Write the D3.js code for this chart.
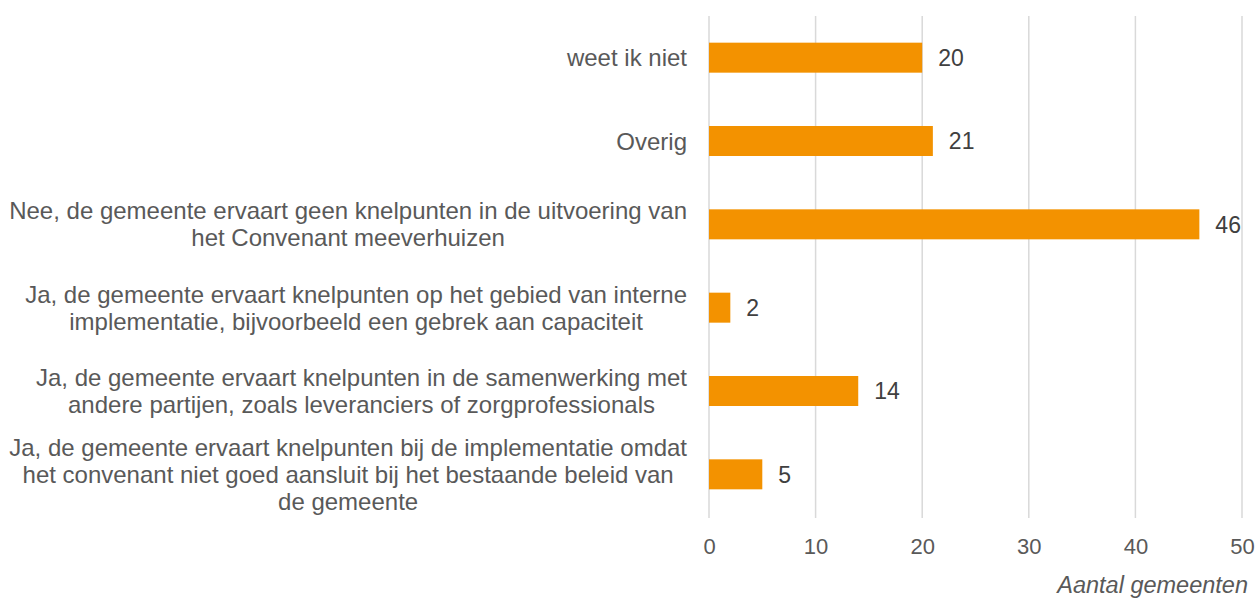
<!DOCTYPE html>
<html><head><meta charset="utf-8">
<script src="https://cdn.jsdelivr.net/npm/d3@7"></script>
<style>body{margin:0;background:#fff}svg{display:block}</style>
</head><body><svg id="c" width="1258" height="601"></svg>
<script>
const categories = [
  "weet ik niet",
  "Overig",
  "Nee, de gemeente ervaart geen knelpunten in de uitvoering van\nhet Convenant meeverhuizen",
  "Ja, de gemeente ervaart knelpunten op het gebied van interne\nimplementatie, bijvoorbeeld een gebrek aan capaciteit",
  "Ja, de gemeente ervaart knelpunten in de samenwerking met\nandere partijen, zoals leveranciers of zorgprofessionals",
  "Ja, de gemeente ervaart knelpunten bij de implementatie omdat\nhet convenant niet goed aansluit bij het bestaande beleid van\nde gemeente"
];
const values = [20, 21, 46, 2, 14, 5];
const xTicks = [0, 10, 20, 30, 40, 50];
const axisTitle = "Aantal gemeenten";

const svg = d3.select("#c");
const font = "'Liberation Sans', Arial, sans-serif";
const x = d3.scaleLinear().domain([0, 50]).range([709, 1242]);
const y = d3.scaleBand().domain(categories).range([16, 516]).paddingInner(0.64).paddingOuter(0.32);

// gridlines
svg.append("g").selectAll("line").data(xTicks).join("line")
  .attr("x1", d => x(d)).attr("x2", d => x(d))
  .attr("y1", 16).attr("y2", 518)
  .attr("stroke", "#d9d9d9").attr("stroke-width", 1.5);

// bars
svg.append("g").selectAll("rect").data(values).join("rect")
  .attr("x", x(0)).attr("y", (d, i) => y(categories[i]))
  .attr("width", d => x(d) - x(0)).attr("height", y.bandwidth())
  .attr("fill", "#f39200");

// value labels
svg.append("g").selectAll("text").data(values).join("text")
  .attr("x", d => x(d) + 16).attr("y", (d, i) => y(categories[i]) + y.bandwidth() / 2)
  .attr("dy", "0.36em").attr("font-family", font).attr("font-size", 23)
  .attr("fill", "#404040").text(d => d);

// x axis tick labels
const xAxis = d3.axisBottom(x).tickValues(xTicks).tickSize(0).tickPadding(0);
const gx = svg.append("g").attr("transform", "translate(0,546)").call(xAxis);
gx.select(".domain").remove();
gx.selectAll("text").attr("font-family", font).attr("font-size", 22).attr("fill", "#595959")
  .attr("dy", "0.36em").attr("y", 0);

// axis title
svg.append("text").attr("x", 1248).attr("y", 593).attr("text-anchor", "end")
  .attr("font-family", font).attr("font-size", 23.5).attr("font-style", "italic")
  .attr("fill", "#595959").text(axisTitle);

// category labels (centered block, right edge at 688)
const lineH = 27;
categories.forEach((c, i) => {
  const lines = c.split("\n");
  const g = svg.append("g");
  const texts = lines.map((l, j) => g.append("text")
    .attr("font-family", font).attr("font-size", 24).attr("fill", "#595959")
    .attr("text-anchor", "middle")
    .attr("y", y(c) + y.bandwidth() / 2 + (j - (lines.length - 1) / 2) * lineH)
    .attr("dy", "0.36em").text(l));
  const w = d3.max(texts, t => t.node().getComputedTextLength());
  texts.forEach(t => t.attr("x", 687 - w / 2));
});
</script></body></html>
